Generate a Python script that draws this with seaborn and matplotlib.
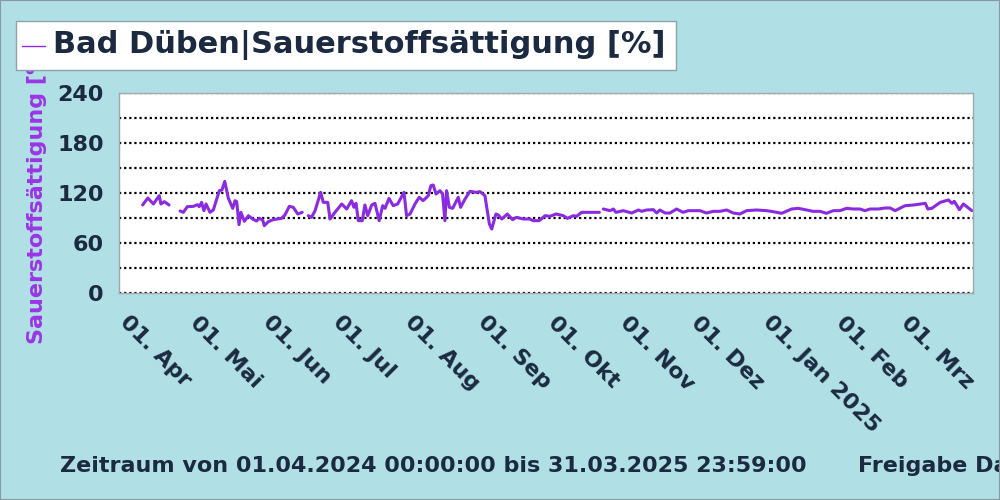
import numpy as np
import pandas as pd
import matplotlib
matplotlib.use("Agg")
import matplotlib.pyplot as plt
import matplotlib.transforms as mtransforms
from matplotlib.patches import Rectangle
from matplotlib.lines import Line2D
import seaborn as sns

# ---------------- data ----------------
start_date = "2024-04-01"
# day offsets from start date; NaN marks a gap in the record
day_offsets = [
    10.1, 12.3, 14.7, 17.2, 17.9, 19.4, 21.4, np.nan,
    26.1, 27.5, 29.2, 31.8, 33.5, 34.3, 35.3, 36.3, 37.2, 38.9, 40.3, 42.9,
    44.0, 45.2, 46.7, 48.6, 49.6, 50.3, 51.3, 52.1, 53.6, 55.3, 57.1, 58.8,
    60.0, 61.4, 62.1, 63.8, 65.9, 69.5, 70.9, 72.8, 74.5, 76.4, 78.3, np.nan,
    80.9, 82.3, 83.8, 86.2, 87.3, 89.2, 90.2, 92.3, 95.2, 97.3, 99.4, 100.4,
    101.3, 102.3, 104.0, 105.1, 106.3, 108.0, 109.4, 111.2, 112.7, 113.7,
    115.4, 117.2, 119.1, 121.8, 122.9, 124.4, 126.5, 128.3, 130.0, 132.2,
    133.3, 134.3, 135.5, 137.2, 138.3, 139.3, 140.0, 141.2, 142.6, 145.0,
    146.0, 147.9, 150.0, 152.6, 154.3, 156.4,
    158.3, 159.3, 161.1, 162.1, 163.6, 166.0, 168.2, 169.9, 172.8, 175.4,
    177.1, 179.6, 182.1, 184.2, 186.8, 189.9, 191.6, 194.2, 195.6, 197.7,
    201.3, 205.3, np.nan,
    207.0, 209.9, 211.3, 212.4, 215.5, 219.1, 222.0, 223.4, 225.5, 228.4,
    229.8, 231.2, 233.4, 235.5, 238.3, 241.1, 243.3, 248.3, 251.1, 254.0,
    256.8, 259.7, 262.5, 265.4, 268.2, 272.5, 276.8, 279.6, 283.2, 287.5,
    290.3, 293.2, 296.7, 299.6, 302.4, 305.3, 308.1, 311.0, 313.8, 316.7,
    318.8, 321.0, 324.6, 327.4, 329.6, 331.7, 336.0, 339.6, 344.6, 345.7,
    347.4, 351.0, 354.5, 356.0, 357.0, 359.2, 360.9, 364.5,
]
saturation = [
    105.6, 114.0, 106.8, 116.8, 106.8, 109.6, 105.6, np.nan,
    98.4, 96.8, 103.6, 104.0, 106.0, 103.6, 108.8, 98.8, 106.8, 96.8, 99.6, 122.8,
    123.6, 134.0, 114.0, 101.6, 110.8, 109.6, 82.0, 96.8, 86.0, 92.8, 88.8, 86.4,
    89.6, 87.6, 80.8, 85.6, 88.0, 89.6, 93.6, 104.0, 102.8, 94.8, 96.8, np.nan,
    92.8, 90.8, 98.8, 120.8, 108.8, 108.8, 88.8, 96.8, 106.8, 100.8, 110.8, 102.8,
    107.6, 86.8, 86.8, 105.6, 92.8, 105.6, 107.6, 86.8, 104.8, 101.6,
    113.6, 104.8, 106.8, 120.8, 92.8, 94.8, 106.8, 114.8, 110.8, 116.8,
    128.8, 129.6, 118.8, 122.8, 118.8, 86.8, 122.8, 102.8, 101.6, 114.8,
    102.8, 112.8, 122.0, 120.8, 121.6, 116.8,
    82.8, 76.8, 94.8, 93.6, 88.8, 94.8, 88.0, 90.8, 88.8, 88.8,
    86.8, 86.8, 92.8, 92.0, 94.8, 92.8, 89.6, 92.8, 92.0, 96.8,
    96.8, 96.8, np.nan,
    100.8, 98.8, 100.8, 96.8, 98.8, 96.0, 99.6, 98.0, 99.6, 100.0,
    96.0, 99.6, 96.0, 96.0, 100.8, 96.8, 98.8, 98.8, 96.0, 98.0,
    98.0, 99.6, 96.0, 94.8, 98.8, 99.6, 98.8, 97.6, 95.6, 100.8,
    101.6, 100.0, 98.0, 98.0, 95.6, 98.8, 98.8, 101.6, 100.8, 100.8,
    98.8, 100.8, 100.8, 102.0, 102.0, 98.8, 104.8, 105.6, 107.6, 100.8,
    101.6, 108.8, 111.6, 107.6, 110.0, 100.0, 106.8, 98.8,
]
month_starts = ["2024-04-01", "2024-05-01", "2024-06-01", "2024-07-01", "2024-08-01",
                "2024-09-01", "2024-10-01", "2024-11-01", "2024-12-01", "2025-01-01",
                "2025-02-01", "2025-03-01", "2025-04-01"]
month_labels = ["01. Apr", "01. Mai", "01. Jun", "01. Jul", "01. Aug", "01. Sep",
                "01. Okt", "01. Nov", "01. Dez", "01. Jan 2025", "01. Feb", "01. Mrz"]
y_ticks = [0, 30, 60, 90, 120, 150, 180, 210, 240]
y_labels = ["0", "", "60", "", "120", "", "180", "", "240"]

title_text = "Bad Düben|Sauerstoffsättigung [%]"
ylabel_text = "Sauerstoffsättigung [%]"
footer_text = "Zeitraum von 01.04.2024 00:00:00 bis 31.03.2025 23:59:00"
footer_text2 = "Freigabe Daten"

# ---------------- styling ----------------
BG = "#b0dfe5"
NAVY = "#1b2a41"
LINE = "#8a2be2"
LABEL_PURPLE = "#9a35e6"
GREY = "#a0a8ac"

sns.set_theme(style="white")
plt.rcParams["font.family"] = ["DejaVu Sans"]
plt.rcParams["font.weight"] = "bold"

fig = plt.figure(figsize=(10, 5), dpi=100, facecolor=BG)
ax = fig.add_axes([0.119, 0.414, 0.854, 0.400])
ax.set_facecolor("white")

df = pd.DataFrame({"day": day_offsets, "value": saturation})
df["segment"] = df["value"].isna().cumsum()
df = df.dropna()
df["date"] = pd.Timestamp(start_date) + pd.to_timedelta(df["day"], unit="D")

for _, seg in df.groupby("segment"):
    sns.lineplot(data=seg, x="date", y="value", ax=ax, color=LINE,
                 linewidth=2.2, sort=False, estimator=None, legend=False)

# axes limits
ms = pd.to_datetime(month_starts)
ax.set_xlim(ms[0], ms[-1])
ax.set_ylim(0, 240)

# gridlines (dotted)
for yv in y_ticks:
    ax.axhline(yv, color="black", linestyle=(0, (1, 1.3)), linewidth=1.6, zorder=1)

# y ticks
ax.set_yticks(y_ticks)
ax.set_yticklabels(y_labels)
ax.set_yticks(np.arange(15, 240, 30), minor=True)

# x ticks
ax.set_xticks(ms[:-1])
ax.set_xticklabels(month_labels)
minor = []
for a, b in zip(ms[:-1], ms[1:]):
    span = b - a
    for k in (1, 2, 3):
        minor.append(a + span * k / 4)
minor.append(ms[-1])
ax.set_xticks(minor, minor=True)

ax.tick_params(axis="both", which="both", direction="out", color=GREY, width=1)
ax.tick_params(axis="y", which="major", length=5, pad=6, labelsize=16, labelcolor=NAVY)
ax.tick_params(axis="y", which="minor", length=3)
ax.tick_params(axis="x", which="major", length=6, pad=10, labelsize=16, labelcolor=NAVY)
ax.tick_params(axis="x", which="minor", length=3)
shift = mtransforms.ScaledTranslation(0.11, 0.03, fig.dpi_scale_trans)
for lbl in ax.get_xticklabels():
    lbl.set_rotation(-45)
    lbl.set_ha("left")
    lbl.set_va("top")
    lbl.set_rotation_mode("anchor")
    lbl.set_fontweight("bold")
    lbl.set_transform(lbl.get_transform() + shift)
for lbl in ax.get_yticklabels():
    lbl.set_fontweight("bold")

for sp in ax.spines.values():
    sp.set_visible(True)
    sp.set_color(GREY)
    sp.set_linewidth(1)

ax.set_xlabel("")
ax.set_ylabel(ylabel_text, color=LABEL_PURPLE, fontsize=16, fontweight="bold", labelpad=7)

# legend-like title box (covers the top of the y label like the original)
fig.patches.append(Rectangle((0.016, 1 - 70 / 500), 0.660, 49 / 500, transform=fig.transFigure,
                             facecolor="white", edgecolor="#8fa3ab", linewidth=1, zorder=5))
fig.lines.append(Line2D([0.022, 0.045], [1 - 46 / 500] * 2, transform=fig.transFigure,
                        color=LINE, linewidth=1, zorder=6))
fig.text(0.053, 1 - 45 / 500, title_text, fontsize=22, fontweight="bold", color=NAVY,
         ha="left", va="center", zorder=7)

# footer
fig.text(0.060, 1 - 466 / 500, footer_text, fontsize=16, fontweight="bold", color=NAVY,
         ha="left", va="center")
fig.text(0.858, 1 - 466 / 500, footer_text2, fontsize=16, fontweight="bold", color=NAVY,
         ha="left", va="center")

# outer frame
fig.patches.append(Rectangle((0, 0), 1, 1, transform=fig.transFigure, fill=False,
                             edgecolor="#8a98a4", linewidth=1.5, zorder=10))

fig.savefig("out.png", dpi=100, facecolor=BG)
